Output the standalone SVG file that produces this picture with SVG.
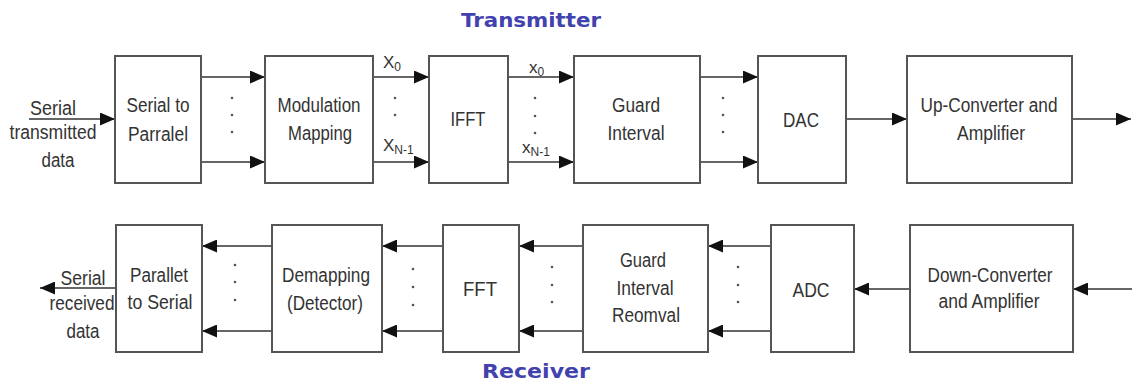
<svg xmlns="http://www.w3.org/2000/svg" width="1132" height="387" viewBox="0 0 1132 387">
<style>
.box{fill:#fff;stroke:#555;stroke-width:2}
.lbl{font-family:"Liberation Sans",Arial,sans-serif;font-size:20px;fill:#333;text-anchor:middle}
.sm{font-family:"Liberation Sans",Arial,sans-serif;font-size:17px;fill:#333}
.sub{font-size:12px}
.ttl{font-family:"DejaVu Sans",sans-serif;font-weight:bold;font-size:20px;fill:#4242ae;text-anchor:middle}
.ln{stroke:#333;stroke-width:1.6;fill:none;marker-end:url(#ah)}
.dot{fill:#555}
</style>
<defs>
<marker id="ah" markerUnits="userSpaceOnUse" markerWidth="16" markerHeight="13" refX="15" refY="6.5" orient="auto">
<path d="M0,0 L15,6.5 L0,13 z" fill="#111"/>
</marker>
</defs>
<rect width="1132" height="387" fill="#fff"/>
<text class="ttl" x="531" y="27" textLength="140" lengthAdjust="spacingAndGlyphs">Transmitter</text>
<text class="ttl" x="536" y="378" textLength="108" lengthAdjust="spacingAndGlyphs">Receiver</text>

<g id="connectors">
<line class="ln" x1="29" y1="119" x2="115" y2="119"/>
<line class="ln" x1="201" y1="77" x2="265" y2="77"/>
<line class="ln" x1="201" y1="162" x2="265" y2="162"/>
<line class="ln" x1="373" y1="77" x2="429" y2="77"/>
<line class="ln" x1="373" y1="162" x2="429" y2="162"/>
<line class="ln" x1="508" y1="77" x2="574" y2="77"/>
<line class="ln" x1="508" y1="162" x2="574" y2="162"/>
<line class="ln" x1="700" y1="77" x2="758" y2="77"/>
<line class="ln" x1="700" y1="162" x2="758" y2="162"/>
<line class="ln" x1="846" y1="119" x2="907" y2="119"/>
<line class="ln" x1="1072" y1="119" x2="1131" y2="119"/>
<line class="ln" x1="1132" y1="289" x2="1073" y2="289"/>
<line class="ln" x1="910" y1="289" x2="854" y2="289"/>
<line class="ln" x1="771" y1="246" x2="708" y2="246"/>
<line class="ln" x1="771" y1="331" x2="708" y2="331"/>
<line class="ln" x1="583" y1="246" x2="519" y2="246"/>
<line class="ln" x1="583" y1="331" x2="519" y2="331"/>
<line class="ln" x1="443" y1="246" x2="382" y2="246"/>
<line class="ln" x1="443" y1="331" x2="382" y2="331"/>
<line class="ln" x1="272" y1="246" x2="202" y2="246"/>
<line class="ln" x1="272" y1="331" x2="202" y2="331"/>
<line class="ln" x1="116" y1="288" x2="40" y2="288"/>
<g class="dot">
<circle cx="232" cy="98" r="1.3"/><circle cx="232" cy="115" r="1.3"/><circle cx="232" cy="132" r="1.3"/>
<circle cx="395" cy="98" r="1.3"/><circle cx="395" cy="115" r="1.3"/>
<circle cx="535" cy="98" r="1.3"/><circle cx="535" cy="116" r="1.3"/><circle cx="535" cy="133" r="1.3"/>
<circle cx="723" cy="98" r="1.3"/><circle cx="723" cy="115" r="1.3"/><circle cx="723" cy="132" r="1.3"/>
<circle cx="235" cy="265" r="1.3"/><circle cx="235" cy="282" r="1.3"/><circle cx="235" cy="300" r="1.3"/>
<circle cx="413" cy="269" r="1.3"/><circle cx="413" cy="287" r="1.3"/><circle cx="413" cy="305" r="1.3"/>
<circle cx="552" cy="267" r="1.3"/><circle cx="552" cy="285" r="1.3"/><circle cx="552" cy="302" r="1.3"/>
<circle cx="738" cy="267" r="1.3"/><circle cx="738" cy="285" r="1.3"/><circle cx="738" cy="302" r="1.3"/>
</g>
<text class="sm" x="383" y="68">X<tspan class="sub" dy="3">0</tspan></text>
<text class="sm" x="383" y="151">X<tspan class="sub" dy="3">N-1</tspan></text>
<text class="sm" x="529" y="73">x<tspan class="sub" dy="3">0</tspan></text>
<text class="sm" x="522" y="153">x<tspan class="sub" dy="3">N-1</tspan></text>
<text class="lbl" x="53" y="115" textLength="46" lengthAdjust="spacingAndGlyphs">Serial</text>
<text class="lbl" x="53" y="139" textLength="87" lengthAdjust="spacingAndGlyphs">transmitted</text>
<text class="lbl" x="58" y="167" textLength="33" lengthAdjust="spacingAndGlyphs">data</text>
<text class="lbl" x="83" y="285" textLength="45" lengthAdjust="spacingAndGlyphs">Serial</text>
<text class="lbl" x="82" y="310" textLength="65" lengthAdjust="spacingAndGlyphs">received</text>
<text class="lbl" x="83" y="338" textLength="33" lengthAdjust="spacingAndGlyphs">data</text>
</g>

<g id="s2p"><rect class="box" x="115" y="56" width="86" height="127"/><text class="lbl" x="158" y="112" textLength="63" lengthAdjust="spacingAndGlyphs">Serial to</text><text class="lbl" x="158" y="141" textLength="60" lengthAdjust="spacingAndGlyphs">Parralel</text></g>
<g id="mod"><rect class="box" x="265" y="56" width="108" height="127"/><text class="lbl" x="319" y="112" textLength="83" lengthAdjust="spacingAndGlyphs">Modulation</text><text class="lbl" x="320" y="140" textLength="64" lengthAdjust="spacingAndGlyphs">Mapping</text></g>
<g id="ifft"><rect class="box" x="429" y="56" width="79" height="127"/><text class="lbl" x="468" y="126" textLength="35" lengthAdjust="spacingAndGlyphs">IFFT</text></g>
<g id="guard"><rect class="box" x="574" y="56" width="126" height="127"/><text class="lbl" x="636" y="112" textLength="48" lengthAdjust="spacingAndGlyphs">Guard</text><text class="lbl" x="636" y="140" textLength="57" lengthAdjust="spacingAndGlyphs">Interval</text></g>
<g id="dac"><rect class="box" x="758" y="56" width="88" height="127"/><text class="lbl" x="801" y="127" textLength="36" lengthAdjust="spacingAndGlyphs">DAC</text></g>
<g id="up"><rect class="box" x="907" y="56" width="165" height="127"/><text class="lbl" x="989" y="112" textLength="137" lengthAdjust="spacingAndGlyphs">Up-Converter and</text><text class="lbl" x="991" y="140" textLength="68" lengthAdjust="spacingAndGlyphs">Amplifier</text></g>

<g id="p2s"><rect class="box" x="116" y="225" width="86" height="127"/><text class="lbl" x="159" y="282" textLength="58" lengthAdjust="spacingAndGlyphs">Parallet</text><text class="lbl" x="160" y="309" textLength="65" lengthAdjust="spacingAndGlyphs">to Serial</text></g>
<g id="demap"><rect class="box" x="272" y="225" width="110" height="127"/><text class="lbl" x="326" y="282" textLength="88" lengthAdjust="spacingAndGlyphs">Demapping</text><text class="lbl" x="325" y="310" textLength="76" lengthAdjust="spacingAndGlyphs">(Detector)</text></g>
<g id="fft"><rect class="box" x="443" y="225" width="76" height="127"/><text class="lbl" x="480" y="296" textLength="34" lengthAdjust="spacingAndGlyphs">FFT</text></g>
<g id="gir"><rect class="box" x="583" y="225" width="125" height="127"/><text class="lbl" x="643" y="267" textLength="46" lengthAdjust="spacingAndGlyphs">Guard</text><text class="lbl" x="645" y="295" textLength="57" lengthAdjust="spacingAndGlyphs">Interval</text><text class="lbl" x="646" y="322" textLength="68" lengthAdjust="spacingAndGlyphs">Reomval</text></g>
<g id="adc"><rect class="box" x="771" y="225" width="83" height="127"/><text class="lbl" x="811" y="297" textLength="37" lengthAdjust="spacingAndGlyphs">ADC</text></g>
<g id="down"><rect class="box" x="910" y="225" width="163" height="127"/><text class="lbl" x="990" y="282" textLength="125" lengthAdjust="spacingAndGlyphs">Down-Converter</text><text class="lbl" x="989" y="308" textLength="101" lengthAdjust="spacingAndGlyphs">and Amplifier</text></g>
</svg>
